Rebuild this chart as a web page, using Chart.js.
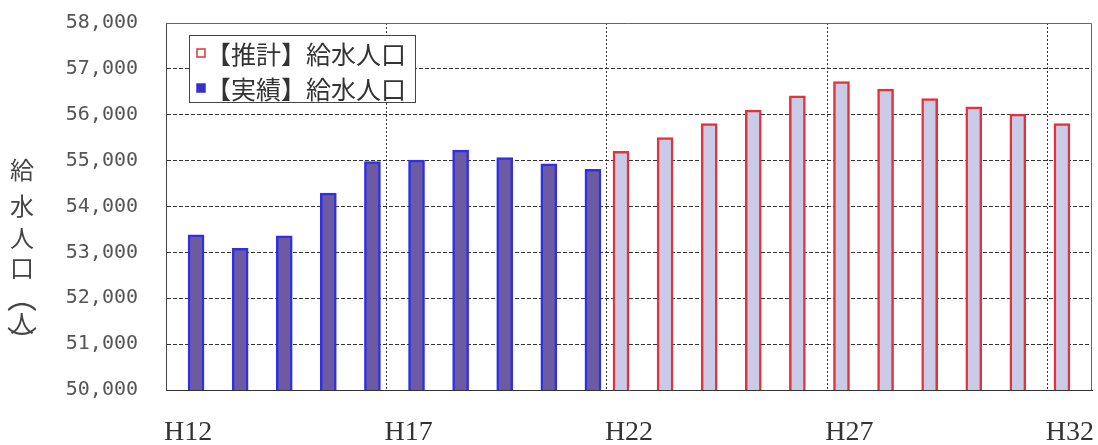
<!DOCTYPE html>
<html>
<head>
<meta charset="utf-8">
<script src="https://cdn.jsdelivr.net/npm/chart.js@4"></script>
<style>
  html, body { margin: 0; padding: 0; background: #ffffff; }
  #wrap { width: 1098px; height: 445px; }
</style>
</head>
<body>
<div id="wrap"><canvas id="c" width="1098" height="445"></canvas></div>
<script>
// Fiscal years (Heisei) on the category axis
const years = ['H12','H13','H14','H15','H16','H17','H18','H19','H20','H21',
               'H22','H23','H24','H25','H26','H27','H28','H29','H30','H31','H32'];
// Years whose label is printed under the axis
const labeledYears = ['H12','H17','H22','H27','H32'];

// Served population, recorded (H12–H21)
const actualYears = ['H12','H13','H14','H15','H16','H17','H18','H19','H20','H21'];
const actualValues = [53380, 53090, 53360, 54290, 54980, 55010, 55230, 55065, 54930, 54810];

// Served population, projected (H22–H32)
const forecastYears = ['H22','H23','H24','H25','H26','H27','H28','H29','H30','H31','H32'];
const forecastValues = [55200, 55500, 55810, 56100, 56410, 56725, 56560, 56355, 56175, 56015, 55810];

// Value axis range
const yMin = 50000;
const yMax = 58000;
const yStep = 1000;

const seriesNames = ['【推計】給水人口', '【実績】給水人口'];
const yTitleChars = ['給', '水', '人', '口', '︵', '人', '︶'];

function alignTo(catYears, vals) {
  return years.map(y => {
    const i = catYears.indexOf(y);
    return i >= 0 ? vals[i] : null;
  });
}

// Solid frame on top/right of the plot area
const framePlugin = {
  id: 'frame',
  afterDatasetsDraw(chart) {
    const { ctx, chartArea: a } = chart;
    ctx.save();
    ctx.strokeStyle = '#666666';
    ctx.lineWidth = 1;
    ctx.beginPath();
    ctx.moveTo(a.left, a.top + 0.5);
    ctx.lineTo(a.right - 0.5, a.top + 0.5);
    ctx.lineTo(a.right - 0.5, a.bottom);
    ctx.stroke();
    ctx.restore();
  }
};

// Boxed legend inside the plot area
const boxLegendPlugin = {
  id: 'boxLegend',
  afterDraw(chart) {
    const { ctx, chartArea: a } = chart;
    const x0 = a.left + 23, y0 = a.top + 12, w = 226, h = 67;
    ctx.save();
    ctx.fillStyle = '#ffffff';
    ctx.fillRect(x0, y0, w, h);
    ctx.strokeStyle = '#444444';
    ctx.lineWidth = 1;
    ctx.strokeRect(x0 + 0.5, y0 + 0.5, w, h);
    ctx.font = '25px "Noto Sans CJK JP"';
    ctx.textBaseline = 'middle';
    chart.data.datasets.forEach((ds, i) => {
      const cy = y0 + 18 + i * 35;
      const mx = x0 + 8, ms = 8;
      ctx.fillStyle = ds.legendFill;
      ctx.fillRect(mx, cy - ms / 2, ms, ms);
      ctx.strokeStyle = ds.borderColor;
      ctx.lineWidth = 1.5;
      ctx.strokeRect(mx, cy - ms / 2, ms, ms);
      ctx.fillStyle = '#333333';
      ctx.fillText(ds.label, x0 + 17, cy + 1);
    });
    ctx.restore();
  }
};

// Vertical (stacked) axis title
const yTitlePlugin = {
  id: 'yTitleVertical',
  afterDraw(chart) {
    const { ctx, chartArea: a } = chart;
    const cx = 22;
    const offsets = [147, 183, 215, 245, 274, 300, 318];
    ctx.save();
    ctx.fillStyle = '#444444';
    ctx.textAlign = 'center';
    ctx.textBaseline = 'middle';
    yTitleChars.forEach((ch, i) => {
      const isParen = ch === '︵' || ch === '︶';
      ctx.font = (isParen ? '30px' : '24px') + ' "Noto Sans CJK JP"';
      ctx.fillText(ch, cx, a.top + offsets[i]);
    });
    ctx.restore();
  }
};

new Chart(document.getElementById('c'), {
  type: 'bar',
  data: {
    labels: years,
    datasets: [
      {
        label: seriesNames[0],
        data: alignTo(forecastYears, forecastValues),
        backgroundColor: '#c9cbe7',
        borderColor: '#e2333d',
        legendFill: '#ffffff',
        borderWidth: 2.5,
        borderSkipped: false,
        barThickness: 16,
        categoryPercentage: 0.56,
        barPercentage: 1.0
      },
      {
        label: seriesNames[1],
        data: alignTo(actualYears, actualValues),
        backgroundColor: '#6c5aa3',
        borderColor: '#2f2fe6',
        legendFill: '#3a32b8',
        borderWidth: 2.5,
        borderSkipped: false,
        barThickness: 16,
        categoryPercentage: 0.56,
        barPercentage: 1.0
      }
    ]
  },
  options: {
    responsive: false,
    animation: false,
    devicePixelRatio: 1,
    layout: { padding: { left: 0, right: 6, top: 23, bottom: 0 } },
    plugins: {
      legend: { display: false },
      tooltip: { enabled: false },
      title: { display: false }
    },
    scales: {
      x: {
        type: 'category',
        offset: true,
        grid: {
          offset: true,
          drawTicks: false,
          lineWidth: 1,
          color: c => (c.index !== undefined && c.index > 0 && c.index % 5 === 0) ? '#333333' : 'rgba(0,0,0,0)'
        },
        border: { display: true, color: '#333333', width: 1, dash: [2, 2] },
        ticks: {
          autoSkip: false,
          maxRotation: 0,
          padding: 26,
          color: '#333333',
          font: { family: '"Liberation Serif"', size: 28 },
          callback: function (v, i) {
            const lab = this.getLabelForValue(v);
            return labeledYears.includes(lab) ? lab : '';
          }
        },
        afterFit: s => { s.height = 55; s.paddingLeft = 0; s.paddingRight = 0; }
      },
      y: {
        min: yMin,
        max: yMax,
        grid: {
          drawTicks: false,
          lineWidth: 1,
          color: c => (c.tick && (c.tick.value === yMax || c.tick.value === yMin)) ? 'rgba(0,0,0,0)' : '#333333'
        },
        border: { display: true, color: '#444444', width: 1, dash: [4, 2] },
        ticks: {
          stepSize: yStep,
          padding: 28,
          color: '#555555',
          font: { family: '"DejaVu Sans Mono"', size: 20 },
          callback: v => v.toLocaleString('en-US')
        },
        afterFit: s => { s.width = 166; s.paddingTop = 0; s.paddingBottom = 0; }
      }
    }
  },
  plugins: [framePlugin, boxLegendPlugin, yTitlePlugin]
});
</script>
</body>
</html>
